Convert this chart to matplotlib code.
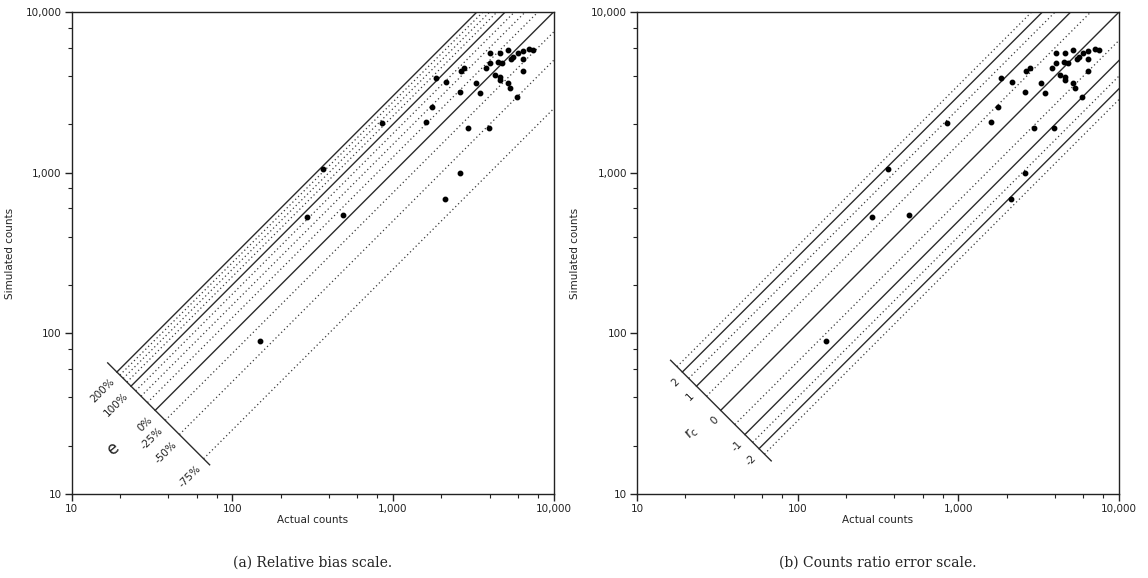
import matplotlib.pyplot as plt
import numpy as np
from matplotlib.ticker import FixedLocator, FuncFormatter, NullFormatter

# observed vs simulated counts per site
actual = [150, 290, 490, 365, 850, 1600, 1760, 1850, 2150, 2600, 2650, 2790,
          3270, 3460, 2950, 3940, 3820, 4050, 4050, 4610, 4540, 4810, 5170,
          5600, 5470, 5970, 6410, 7080, 7500, 6410, 6410, 4290, 4610, 4610,
          5170, 5320, 5880, 2600, 2120]
simulated = [90, 530, 545, 1050, 2040, 2060, 2560, 3880, 3660, 3180, 4290,
             4480, 3610, 3130, 1900, 1900, 4480, 4810, 5550, 5550, 4880, 4810,
             5800, 5240, 5090, 5550, 5710, 5880, 5800, 5090, 4290, 4050, 3940,
             3770, 3610, 3360, 2950, 995, 685]

# relative bias e (sim/act - 1) guide lines
bias_levels = [2.0, 1.75, 1.5, 1.25, 1.0, 0.75, 0.5, 0.25, 0.0, -0.25, -0.5, -0.75]
bias_labels = {2.0: "200%", 1.0: "100%", 0.0: "0%", -0.25: "-25%", -0.5: "-50%", -0.75: "-75%"}
bias_solid = [2.0, 1.0, 0.0]

# counts ratio error r_c guide lines
ratio_levels = [2.5, 2.0, 1.5, 1.0, 0.5, 0.0, -0.5, -1.0, -1.5, -2.0, -2.5]
ratio_labels = {2.0: "2", 1.0: "1", 0.0: "0", -1.0: "-1", -2.0: "-2"}
ratio_solid = [2.0, 1.0, 0.0, -1.0, -2.0]

LO, HI = 10, 10000
CENTER = 1100.0  # x*y of the cross scale line
INK = "#222222"


def ratio_to_k(r):
    return 1.0 + r if r >= 0 else 1.0 / (1.0 - r)


def draw_guides(ax, ks, solid_flags, k_span):
    for k, solid in zip(ks, solid_flags):
        x0, y0 = np.sqrt(CENTER / k), np.sqrt(CENTER * k)
        x1 = min(HI, HI / k)
        if solid:
            ax.plot([x0, x1], [y0, k * x1], color="#2b2b2b", lw=1.0, zorder=2)
        else:
            ax.plot([x0, x1], [y0, k * x1], color="#3a3a3a", lw=0.9,
                    linestyle=(0, (1, 2.2)), zorder=2)
    kk = np.array(k_span)
    ax.plot(np.sqrt(CENTER / kk), np.sqrt(CENTER * kk), color="#2b2b2b", lw=1.0, zorder=2)


def label_guide(ax, k, text):
    x0, y0 = np.sqrt(CENTER / k), np.sqrt(CENTER * k)
    ax.annotate(text, (x0, y0), xytext=(-3, -6), textcoords="offset points",
                rotation=45, rotation_mode="anchor", ha="right", va="center",
                fontsize=7.5, color=INK)


def style_axes(ax):
    ax.set_xscale("log")
    ax.set_yscale("log")
    ax.set_xlim(LO, HI)
    ax.set_ylim(LO, HI)
    fmt = FuncFormatter(lambda v, _: f"{int(round(v)):,}")
    minors = [m * 10 ** e for e in range(1, 4) for m in (2, 4, 6, 8)]
    for axis in (ax.xaxis, ax.yaxis):
        axis.set_major_locator(FixedLocator([10, 100, 1000, 10000]))
        axis.set_major_formatter(fmt)
        axis.set_minor_locator(FixedLocator(minors))
        axis.set_minor_formatter(NullFormatter())
    ax.tick_params(which="major", length=5, width=1.0, labelsize=7.5, pad=2, colors=INK)
    ax.tick_params(which="minor", length=3, width=0.8, colors=INK)
    for sp in ax.spines.values():
        sp.set_linewidth(1.0)
        sp.set_color(INK)
    ax.set_xlabel("Actual counts", fontsize=7.5, labelpad=1, color=INK)
    ax.set_ylabel("Simulated counts", fontsize=7.5, labelpad=8, color=INK)


fig = plt.figure(figsize=(11.48, 5.78), dpi=100)
ax_a = fig.add_axes([0.0623, 0.1453, 0.4199, 0.8339])
ax_b = fig.add_axes([0.5549, 0.1453, 0.4199, 0.8339])

for ax in (ax_a, ax_b):
    style_axes(ax)
    ax.plot(actual, simulated, "o", color="black", markersize=3.2, zorder=3)

# (a) relative bias
draw_guides(ax_a, [1 + e for e in bias_levels], [e in bias_solid for e in bias_levels], [3.9, 0.21])
for e, txt in bias_labels.items():
    label_guide(ax_a, 1 + e, txt)
ax_a.text(18.0, 19.0, "e", fontsize=12, rotation=40, ha="center", va="center", color=INK)

# (b) counts ratio error
draw_guides(ax_b, [ratio_to_k(r) for r in ratio_levels], [r in ratio_solid for r in ratio_levels],
            [4.2, 0.235])
for r, txt in ratio_labels.items():
    label_guide(ax_b, ratio_to_k(r), txt)
ax_b.text(22.0, 24.0, "r$_\\mathregular{c}$", fontsize=10, rotation=40,
          ha="center", va="center", color=INK)

fig.text(0.0623 + 0.4199 / 2, 0.019, "(a) Relative bias scale.", ha="center",
         fontsize=10, family="DejaVu Serif", color=INK)
fig.text(0.5549 + 0.4199 / 2, 0.019, "(b) Counts ratio error scale.", ha="center",
         fontsize=10, family="DejaVu Serif", color=INK)

fig.savefig("out.png", dpi=100)
